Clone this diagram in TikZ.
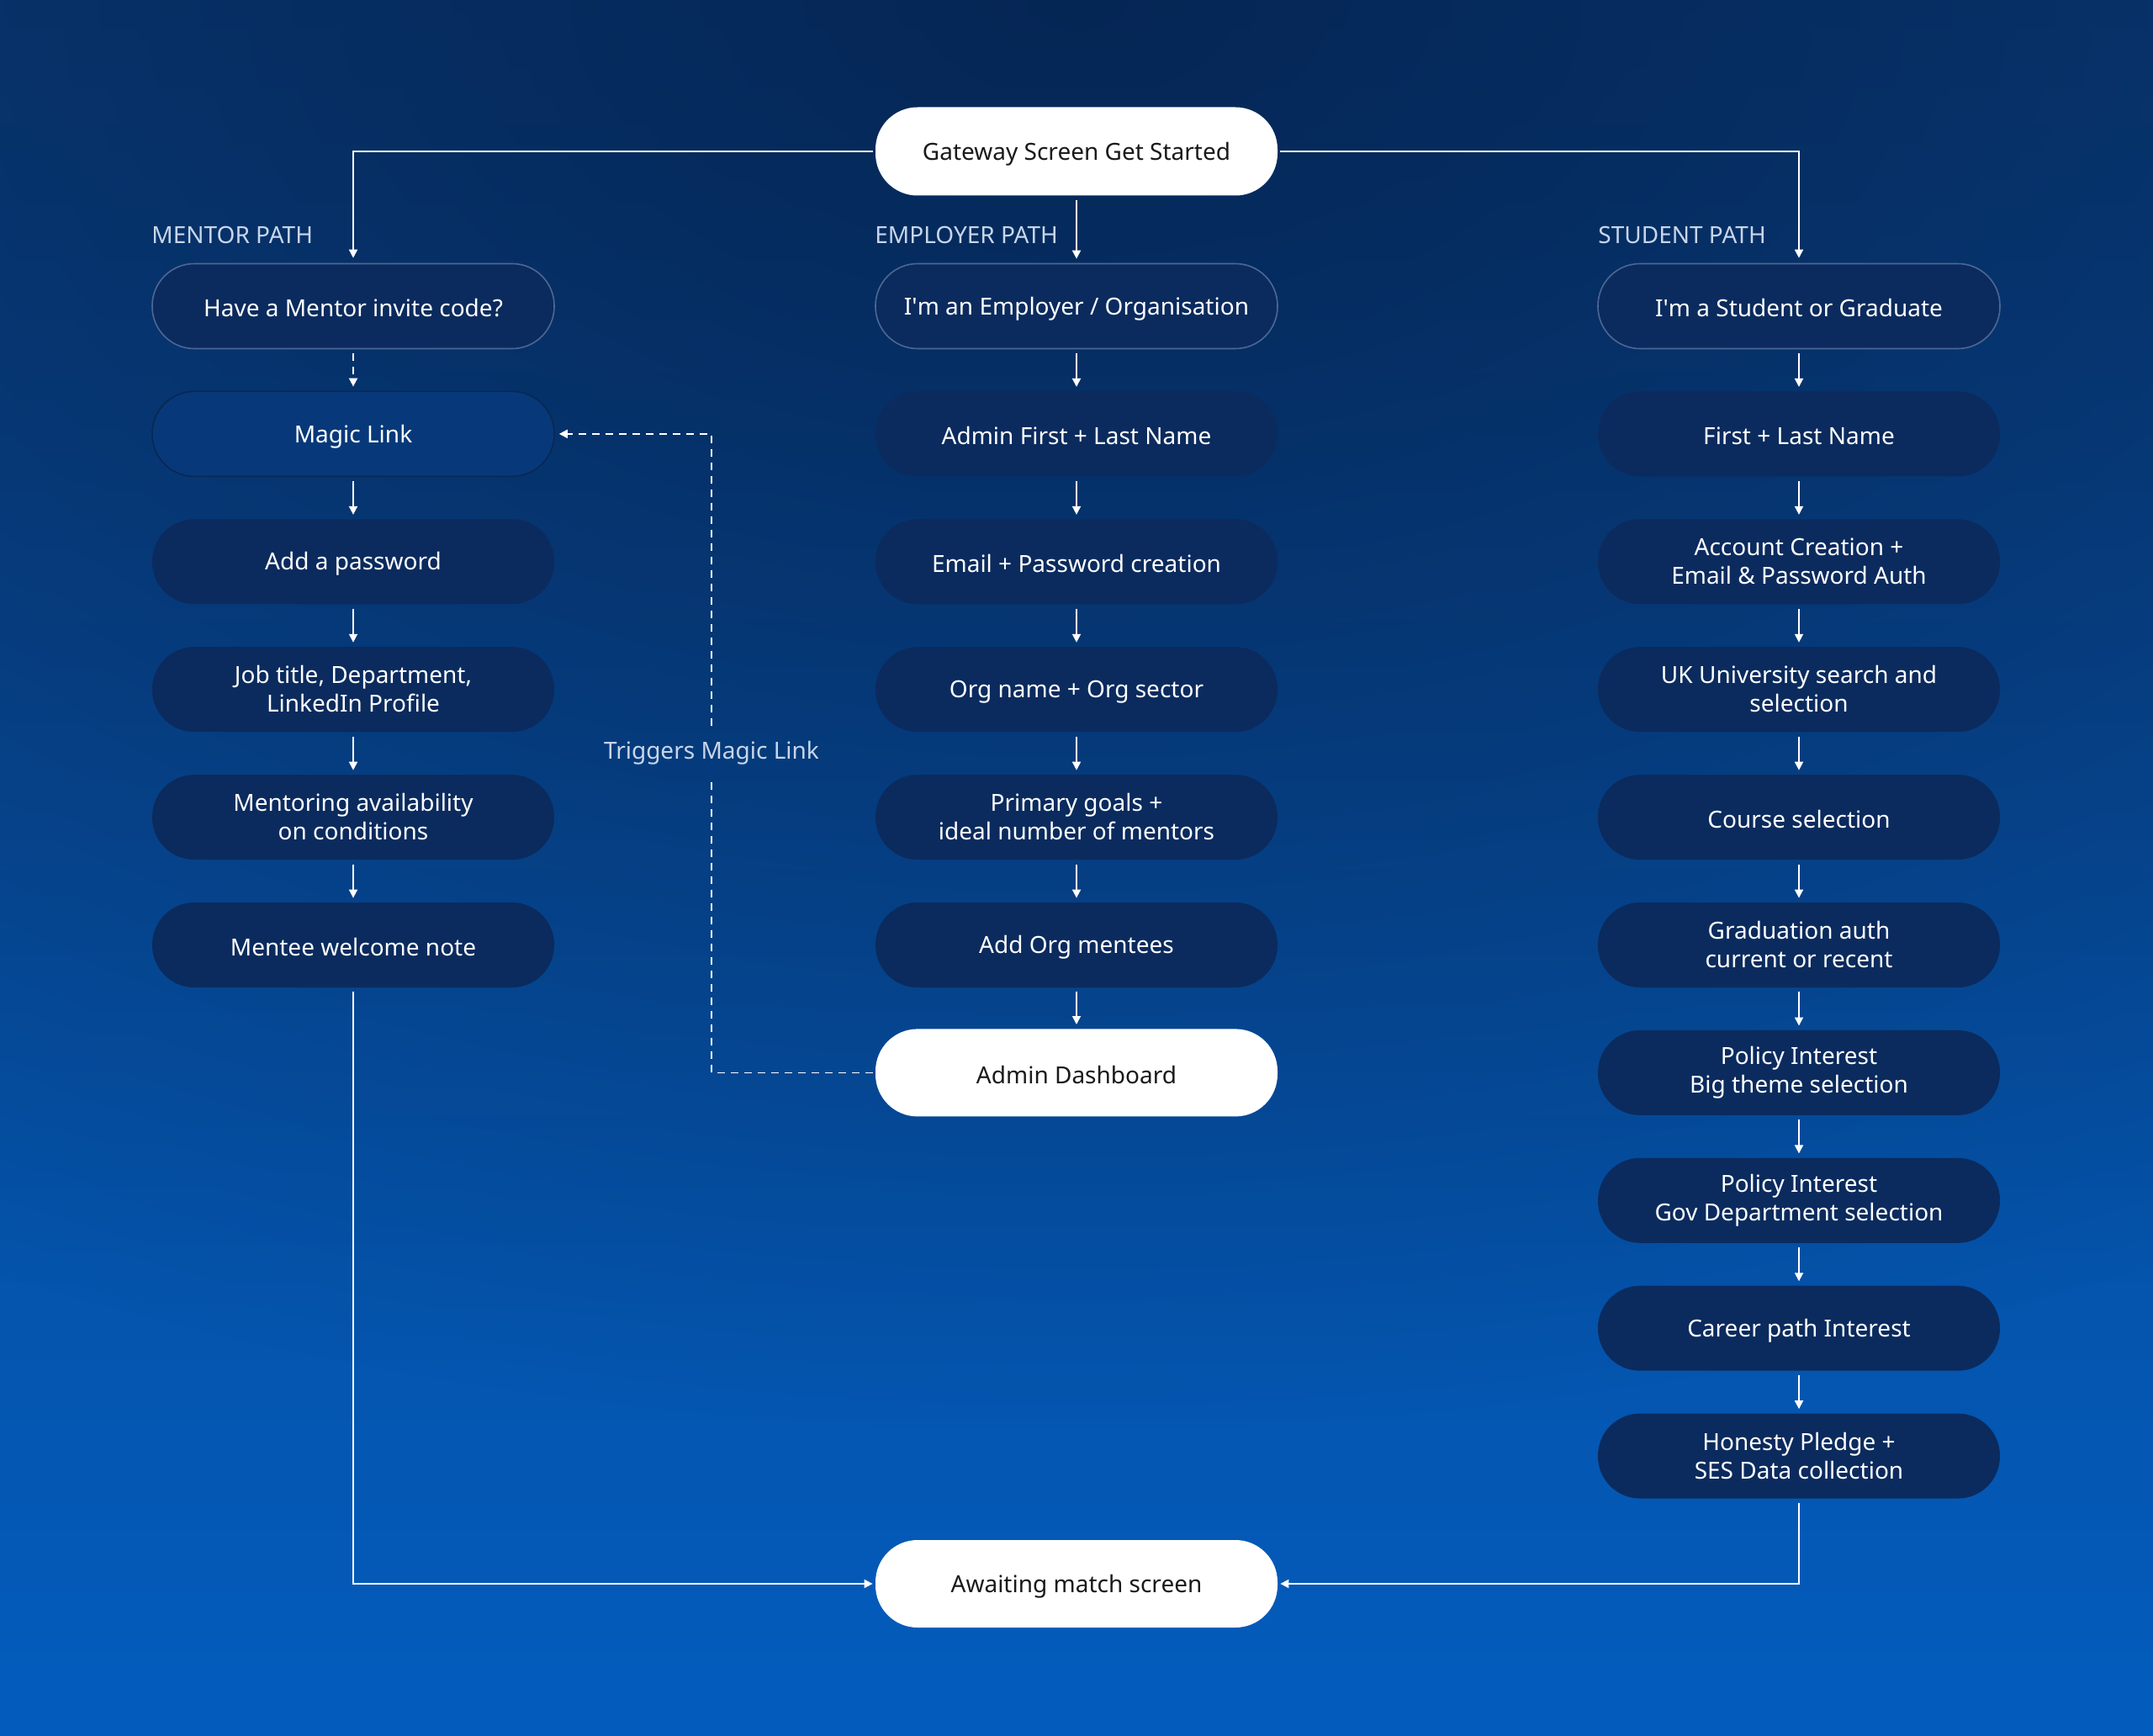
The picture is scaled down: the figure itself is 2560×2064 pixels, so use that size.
\documentclass[tikz,border=0pt]{standalone}
\usepackage{fontspec}
\setmainfont{Noto Sans}
\usetikzlibrary{arrows.meta,fadings}
\definecolor{bgtop}{HTML}{0A3E7E}
\definecolor{bgbot}{HTML}{035CBD}
\definecolor{bgdark}{HTML}{04224E}
\definecolor{navy}{HTML}{0B2B5E}
\definecolor{magic}{HTML}{07397A}
\definecolor{navyedge}{HTML}{0A2752}
\definecolor{startedge}{HTML}{4C6794}
\definecolor{labelc}{HTML}{C8D6EA}
\definecolor{textdark}{HTML}{1A1A1A}
\newcommand{\boxstrut}{\rule[-0.5pt]{0pt}{14pt}}
\tikzfading[name=topglow, inner color=transparent!0, outer color=transparent!100]
\tikzset{
  boxfont/.style={font=\fontsize{14}{17}\selectfont},
  box/.style={rectangle, rounded corners=25pt, minimum width=239pt, minimum height=50.5pt,
    text=white, align=center, boxfont, inner sep=0pt,
    execute at begin node={\boxstrut}, execute at end node={\boxstrut}},
  navybox/.style={box, fill=navy},
  startbox/.style={box, fill=navy, draw=startedge, line width=0.8pt},
  magicbox/.style={box, fill=magic, draw=navyedge, line width=0.8pt},
  whitebox/.style={box, fill=white, text=textdark, minimum height=52pt},
  pathlabel/.style={anchor=base west, text=labelc, boxfont, inner sep=0pt},
  flow/.style={draw=white, line width=0.9pt, -{Triangle[length=5pt,width=5pt]}},
  dashflow/.style={flow, dash pattern=on 4.5pt off 3.5pt},
  gap/.style={shorten <=2.5pt, shorten >=2.5pt}
}
\begin{document}
\begin{tikzpicture}[x=0.5pt,y=-0.5pt]
\useasboundingbox (0,0) rectangle (2560,2064);
\shade[top color=bgtop, bottom color=bgbot] (0,0) rectangle (2560,2064);
\fill[bgdark, path fading=topglow, opacity=0.85] (1280,0) ellipse [x radius=2800, y radius=1700];

% top and bottom
\node[whitebox, minimum height=52.5pt] (gw) at (1280,180) {Gateway Screen Get Started};
\node[whitebox] (aw) at (1280,1883) {Awaiting match screen};

% path labels
\node[pathlabel] (lm) at (180,290) {MENTOR PATH};
\node[pathlabel] (le) at (1040,290) {EMPLOYER PATH};
\node[pathlabel] (ls) at (1900,290) {STUDENT PATH};

% mentor column
\node[startbox] (m1) at (420,364.0) {Have a Mentor invite code?};
\node[magicbox] (m2) at (420,515.9) {Magic Link};
\node[navybox]  (m3) at (420,667.8) {Add a password};
\node[navybox]  (m4) at (420,819.7) {Job title, Department,\\LinkedIn Profile};
\node[navybox]  (m5) at (420,971.6) {Mentoring availability\\on conditions};
\node[navybox]  (m6) at (420,1123.5) {Mentee welcome note};

% employer column
\node[startbox] (e1) at (1280,364.0) {I\textquotesingle m an Employer / Organisation};
\node[navybox]  (e2) at (1280,515.9) {Admin First + Last Name};
\node[navybox]  (e3) at (1280,667.8) {Email + Password creation};
\node[navybox]  (e4) at (1280,819.7) {Org name + Org sector};
\node[navybox]  (e5) at (1280,971.6) {Primary goals +\\ideal number of mentors};
\node[navybox]  (e6) at (1280,1123.5) {Add Org mentees};
\node[whitebox] (e7) at (1280,1275.4) {Admin Dashboard};

% student column
\node[startbox] (s1) at (2139,364.0) {I\textquotesingle m a Student or Graduate};
\node[navybox]  (s2) at (2139,515.9) {First + Last Name};
\node[navybox]  (s3) at (2139,667.8) {Account Creation +\\Email \& Password Auth};
\node[navybox]  (s4) at (2139,819.7) {UK University search and\\selection};
\node[navybox]  (s5) at (2139,971.6) {Course selection};
\node[navybox]  (s6) at (2139,1123.5) {Graduation auth\\current or recent};
\node[navybox]  (s7) at (2139,1275.4) {Policy Interest\\Big theme selection};
\node[navybox]  (s8) at (2139,1427.3) {Policy Interest\\Gov Department selection};
\node[navybox]  (s9) at (2139,1579.2) {Career path Interest};
\node[navybox]  (s10) at (2139,1731.1) {Honesty Pledge +\\SES Data collection};

% trigger label
\node[text=labelc, boxfont, inner xsep=2pt, inner ysep=9pt] (trig) at (846,895) {Triggers Magic Link};

% gateway connectors
\draw[flow, shorten <=1.5pt, shorten >=3pt] (gw.west) -| (m1.north);
\draw[flow, gap] (gw.south) -- (e1.north);
\draw[flow, shorten <=1.5pt, shorten >=3pt] (gw.east) -| (s1.north);

% chains
\draw[dashflow, gap] (m1.south) -- (m2.north);
\foreach \a/\b in {m2/m3, m3/m4, m4/m5, m5/m6,
                   e1/e2, e2/e3, e3/e4, e4/e5, e5/e6, e6/e7,
                   s1/s2, s2/s3, s3/s4, s4/s5, s5/s6, s6/s7, s7/s8, s8/s9, s9/s10}
  \draw[flow, gap] (\a.south) -- (\b.north);

% to awaiting
\draw[flow, shorten <=2.5pt, shorten >=1.5pt] (m6.south) |- (aw.west);
\draw[flow, shorten <=2.5pt, shorten >=1.5pt] (s10.south) |- (aw.east);

% dashed trigger
\draw[draw=white, line width=0.9pt, dash pattern=on 4.5pt off 3.5pt, shorten <=1.5pt] (e7.west) -| (trig.south);
\draw[dashflow, shorten >=2.5pt] (trig.north) |- (m2.east);
\end{tikzpicture}
\end{document}
